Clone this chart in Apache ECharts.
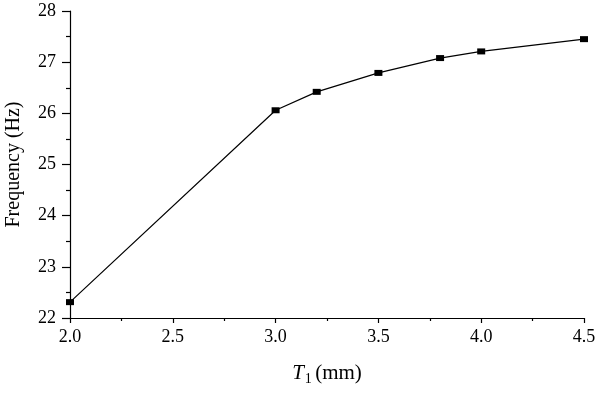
<!DOCTYPE html>
<html>
<head>
<meta charset="utf-8">
<script src="https://cdn.jsdelivr.net/npm/echarts@6/dist/echarts.min.js"></script>
<style>
html,body{margin:0;padding:0;background:#fff;}
#chart{width:600px;height:393px;}
</style>
</head>
<body>
<div id="chart"></div>
<script>
const thickness = [2.0, 3.0, 3.2, 3.5, 3.8, 4.0, 4.5];
const frequency = [22.31, 26.06, 26.42, 26.79, 27.08, 27.21, 27.45];
const xTicks = [2.0, 2.5, 3.0, 3.5, 4.0, 4.5];
const yTicks = [22, 23, 24, 25, 26, 27, 28];

const font = '"Liberation Serif", "DejaVu Serif", serif';
const chart = echarts.init(document.getElementById('chart'), null, {renderer: 'canvas'});
chart.setOption({
  animation: false,
  backgroundColor: '#fff',
  grid: {left: 70, right: 16, top: 11, bottom: 75, containLabel: false, outerBoundsMode: 'none'},
  xAxis: {
    type: 'value',
    min: xTicks[0], max: xTicks[xTicks.length - 1], interval: 0.5,
    axisLine: {show: true, onZero: false, lineStyle: {color: '#000', width: 1.2}},
    axisTick: {show: true, length: 5, lineStyle: {color: '#000', width: 1.2}},
    minorTick: {show: true, splitNumber: 2, length: 3, lineStyle: {color: '#000', width: 1.2}},
    splitLine: {show: false},
    axisLabel: {color: '#000', fontFamily: font, fontSize: 18, margin: 10, formatter: v => v.toFixed(1)},
    name: '{i|T}{sub|1} {n|(mm)}',
    nameLocation: 'middle',
    nameGap: 42,
    nameTextStyle: {
      rich: {
        i: {fontFamily: font, fontStyle: 'italic', fontSize: 21, color: '#000'},
        sub: {fontFamily: font, fontSize: 14, color: '#000', verticalAlign: 'bottom', padding: [12, 0, 0, 1]},
        n: {fontFamily: font, fontSize: 21, color: '#000'}
      }
    }
  },
  yAxis: {
    type: 'value',
    min: yTicks[0], max: yTicks[yTicks.length - 1], interval: 1,
    axisLine: {show: true, onZero: false, lineStyle: {color: '#000', width: 1.2}},
    axisTick: {show: true, length: 8, lineStyle: {color: '#000', width: 1.2}},
    minorTick: {show: true, splitNumber: 2, length: 4, lineStyle: {color: '#000', width: 1.2}},
    splitLine: {show: false},
    axisLabel: {color: '#000', fontFamily: font, fontSize: 18, margin: 14},
    name: 'Frequency (Hz)',
    nameLocation: 'middle',
    nameGap: 46,
    nameTextStyle: {fontFamily: font, fontSize: 20, color: '#000'}
  },
  series: [{
    type: 'line',
    data: thickness.map((t, i) => [t, frequency[i]]),
    symbol: 'rect',
    symbolSize: [8, 6],
    showAllSymbol: true,
    lineStyle: {color: '#000', width: 1.2},
    itemStyle: {color: '#000'},
    clip: false
  }]
});
</script>
</body>
</html>
